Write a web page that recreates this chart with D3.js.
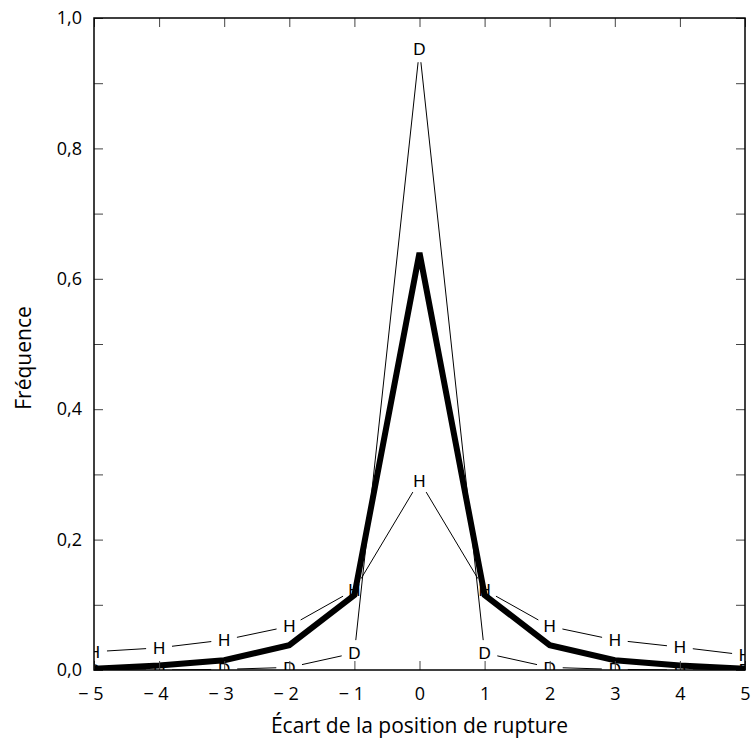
<!DOCTYPE html>
<html>
<head>
<meta charset="utf-8">
<script src="https://cdn.jsdelivr.net/npm/d3@7/dist/d3.min.js"></script>
<style>
  body { margin: 0; background: #fff; }
  text { font-family: "Open Sans", "Noto Sans", sans-serif; fill: #000; }
  .mark { font-family: "Liberation Sans", Arial, sans-serif; }
</style>
</head>
<body>
<div id="chart"></div>
<script>
// écart de position (x) and the three frequency series
var ecarts = [-5, -4, -3, -2, -1, 0, 1, 2, 3, 4, 5];
var freqTotal = [0.002, 0.007, 0.015, 0.038, 0.115, 0.64, 0.115, 0.038, 0.015, 0.007, 0.002];
var freqH = [0.028, 0.034, 0.046, 0.067, 0.123, 0.29, 0.123, 0.067, 0.046, 0.035, 0.023];
var freqD = [0, 0, 0.001, 0.004, 0.026, 0.952, 0.026, 0.004, 0.001, 0, 0];
var yTickLabels = [0, 0.2, 0.4, 0.6, 0.8, 1.0];

var W = 753, H = 740;
var m = {left: 94, right: 8, top: 18, bottom: 70};

var svg = d3.select("#chart").append("svg")
  .attr("width", W)
  .attr("height", H);

var x = d3.scaleLinear().domain([-5, 5]).range([m.left, W - m.right]);
var y = d3.scaleLinear().domain([0, 1]).range([H - m.bottom, m.top]);

svg.append("clipPath").attr("id", "plotclip")
  .append("rect")
  .attr("x", x(-5)).attr("y", y(1))
  .attr("width", x(5) - x(-5)).attr("height", y(0) - y(1));

var plot = svg.append("g").attr("clip-path", "url(#plotclip)");

// thin lines broken around the letters
var gap = 13;
function drawLetters(vals, letter) {
  var pts = ecarts.map(function(e, i) { return [x(e), y(vals[i])]; });
  for (var i = 0; i < pts.length - 1; i++) {
    var a = pts[i], b = pts[i + 1];
    var dx = b[0] - a[0], dy = b[1] - a[1];
    var len = Math.sqrt(dx * dx + dy * dy);
    if (len <= 2 * gap) continue;
    var ux = dx / len, uy = dy / len;
    plot.append("line")
      .attr("x1", a[0] + ux * gap).attr("y1", a[1] + uy * gap)
      .attr("x2", b[0] - ux * gap).attr("y2", b[1] - uy * gap)
      .attr("stroke", "#000")
      .attr("stroke-width", 1);
  }
  plot.selectAll("text.m" + letter)
    .data(pts)
    .enter()
    .append("text")
    .attr("class", "mark m" + letter)
    .attr("x", function(d) { return d[0]; })
    .attr("y", function(d) { return d[1]; })
    .attr("dy", "0.36em")
    .attr("text-anchor", "middle")
    .attr("font-size", 17)
    .text(letter);
}
drawLetters(freqH, "H");
drawLetters(freqD, "D");

var line = d3.line()
  .x(function(d, i) { return x(ecarts[i]); })
  .y(function(d) { return y(d); });

plot.append("path")
  .datum(freqTotal)
  .attr("d", line)
  .attr("fill", "none")
  .attr("stroke", "#000")
  .attr("stroke-width", 6)
  .attr("stroke-linejoin", "miter");

// axes with inward ticks, mirrored on top and right
var tickFmt = function(d) {
  return d3.format(".1f")(d).replace(".", ",");
};
var xFmt = function(d) {
  return d < 0 ? "\u2212 " + Math.abs(d) : String(d);
};

var gx = svg.append("g")
  .attr("transform", "translate(0," + y(0) + ")")
  .call(d3.axisBottom(x).tickValues(ecarts).tickSizeInner(-9).tickSizeOuter(0).tickPadding(17).tickFormat(xFmt));
var gxt = svg.append("g")
  .attr("transform", "translate(0," + y(1) + ")")
  .call(d3.axisTop(x).tickValues(ecarts).tickSizeInner(-9).tickSizeOuter(0).tickFormat(""));
var yMinor = d3.range(0, 11).map(function(i) { return i / 10; });
var gy = svg.append("g")
  .attr("transform", "translate(" + x(-5) + ",0)")
  .call(d3.axisLeft(y).tickValues(yMinor).tickSizeInner(-9).tickSizeOuter(0).tickPadding(12)
    .tickFormat(function(d) {
      return yTickLabels.some(function(v) { return Math.abs(v - d) < 1e-9; }) ? tickFmt(d) : "";
    }));
var gyr = svg.append("g")
  .attr("transform", "translate(" + x(5) + ",0)")
  .call(d3.axisRight(y).tickValues(yMinor).tickSizeInner(-9).tickSizeOuter(0).tickFormat(""));

svg.selectAll(".domain").remove();
svg.selectAll(".tick line").attr("stroke", "#444").attr("stroke-width", 1);
svg.selectAll(".tick text")
  .attr("font-size", 18)
  .attr("font-family", "'Open Sans', 'Noto Sans', sans-serif")
  .attr("fill", "#000");
// the -5 label sits a little left of its tick, as in the original
gx.selectAll(".tick text").attr("dx", function(d) { return d < 0 ? "-0.2em" : 0; });

// frame
svg.append("rect")
  .attr("x", x(-5)).attr("y", y(1))
  .attr("width", x(5) - x(-5)).attr("height", y(0) - y(1))
  .attr("fill", "none")
  .attr("stroke", "#000")
  .attr("stroke-width", 1.5);

svg.append("text")
  .attr("x", (x(-5) + x(5)) / 2)
  .attr("y", 733)
  .attr("text-anchor", "middle")
  .attr("font-size", 21)
  .text("Écart de la position de rupture");

svg.append("text")
  .attr("transform", "translate(31," + 358 + ") rotate(-90)")
  .attr("text-anchor", "middle")
  .attr("font-size", 21)
  .text("Fréquence");
</script>
</body>
</html>
